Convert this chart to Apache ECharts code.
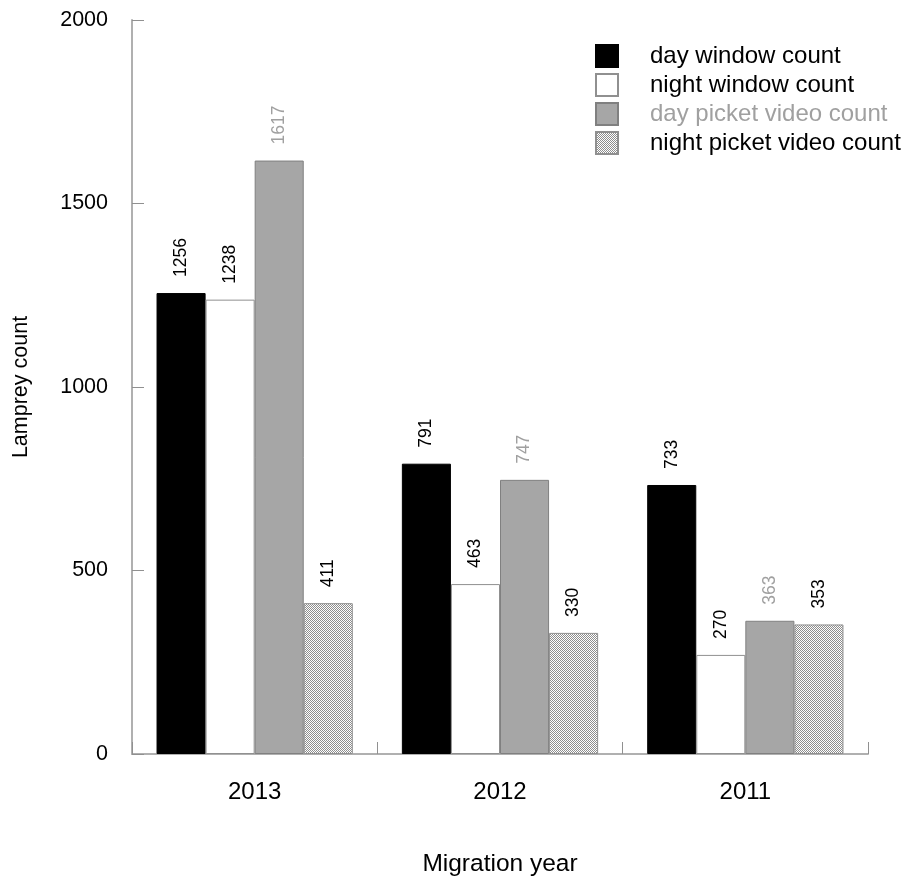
<!DOCTYPE html>
<html>
<head>
<meta charset="utf-8">
<script src="https://cdn.jsdelivr.net/npm/echarts@6/dist/echarts.min.js"></script>
<style>
  html, body { margin: 0; padding: 0; background: #fff; }
  #chart { width: 907px; height: 882px; }
</style>
</head>
<body>
<div id="chart"></div>
<script>
// Lamprey counts by migration year and counting method
const years = ['2013', '2012', '2011'];
const dayWindow = [1256, 791, 733];
const nightWindow = [1238, 463, 270];
const dayPicket = [1617, 747, 363];
const nightPicket = [411, 330, 353];
const seriesNames = ['day window count', 'night window count', 'day picket video count', 'night picket video count'];
const yTicks = [0, 500, 1000, 1500, 2000];

// fine checkerboard fill for the night picket bars
function checkerPattern() {
  const c = document.createElement('canvas');
  c.width = 2; c.height = 2;
  const ctx = c.getContext('2d');
  ctx.fillStyle = '#ffffff';
  ctx.fillRect(0, 0, 2, 2);
  ctx.fillStyle = '#8e8e8e';
  ctx.fillRect(0, 0, 1, 1);
  ctx.fillRect(1, 1, 1, 1);
  return c;
}

const FONT = 'Liberation Sans, Arial, sans-serif';
const GREY_TEXT = '#a0a0a0';

function labelFor(color) {
  return {
    show: true,
    position: 'top',
    rotate: 90,
    align: 'left',
    verticalAlign: 'middle',
    distance: 16,
    fontSize: 17.5,
    fontFamily: FONT,
    color: color
  };
}

const chart = echarts.init(document.getElementById('chart'), null, { renderer: 'canvas' });

const option = {
  animation: false,
  backgroundColor: '#ffffff',
  grid: { left: 132, width: 736, top: 20, height: 737, containLabel: false },
  legend: {
    orient: 'vertical',
    left: 590,
    top: 39,
    itemWidth: 22,
    itemHeight: 22,
    itemGap: 5,
    icon: 'rect',
    textStyle: { fontSize: 24, fontFamily: FONT, color: '#000', padding: [0, 0, 0, 27] },
    data: [
      { name: seriesNames[0] },
      { name: seriesNames[1] },
      { name: seriesNames[2], textStyle: { color: GREY_TEXT } },
      { name: seriesNames[3] }
    ]
  },
  xAxis: {
    type: 'category',
    data: years,
    name: 'Migration year',
    nameLocation: 'middle',
    nameGap: 98,
    nameTextStyle: { fontSize: 24.5, fontFamily: FONT, color: '#000' },
    axisLine: { lineStyle: { color: '#b0b0b0', width: 2 } },
    axisTick: { show: true, inside: true, length: 12, lineStyle: { color: '#909090', width: 1 } },
    axisLabel: { fontSize: 24, fontFamily: FONT, color: '#000', margin: 26 },
    splitLine: { show: false }
  },
  yAxis: {
    type: 'value',
    min: yTicks[0],
    max: yTicks[yTicks.length - 1],
    interval: yTicks[1] - yTicks[0],
    name: 'Lamprey count',
    nameLocation: 'middle',
    nameGap: 100,
    nameTextStyle: { fontSize: 21.5, fontFamily: FONT, color: '#000' },
    axisLine: { show: true, lineStyle: { color: '#b0b0b0', width: 2 } },
    axisTick: { show: true, inside: true, length: 12, lineStyle: { color: '#909090', width: 1 } },
    axisLabel: { fontSize: 21.5, fontFamily: FONT, color: '#000', margin: 24, formatter: v => String(v) },
    splitLine: { show: false }
  },
  series: [
    {
      name: seriesNames[0],
      type: 'bar',
      data: dayWindow,
      barGap: '0%',
      barCategoryGap: '20%',
      itemStyle: { color: '#000000', borderColor: '#000000', borderWidth: 1 },
      label: labelFor('#000')
    },
    {
      name: seriesNames[1],
      type: 'bar',
      data: nightWindow,
      barGap: '0%',
      barCategoryGap: '20%',
      itemStyle: { color: '#ffffff', borderColor: '#909090', borderWidth: 1 },
      label: labelFor('#000')
    },
    {
      name: seriesNames[2],
      type: 'bar',
      data: dayPicket,
      barGap: '0%',
      barCategoryGap: '20%',
      itemStyle: { color: '#a6a6a6', borderColor: '#808080', borderWidth: 1 },
      label: labelFor(GREY_TEXT)
    },
    {
      name: seriesNames[3],
      type: 'bar',
      data: nightPicket,
      barGap: '0%',
      barCategoryGap: '20%',
      itemStyle: { color: { image: checkerPattern(), repeat: 'repeat' }, borderColor: '#909090', borderWidth: 1 },
      label: labelFor('#000')
    }
  ]
};

chart.setOption(option);
</script>
</body>
</html>
